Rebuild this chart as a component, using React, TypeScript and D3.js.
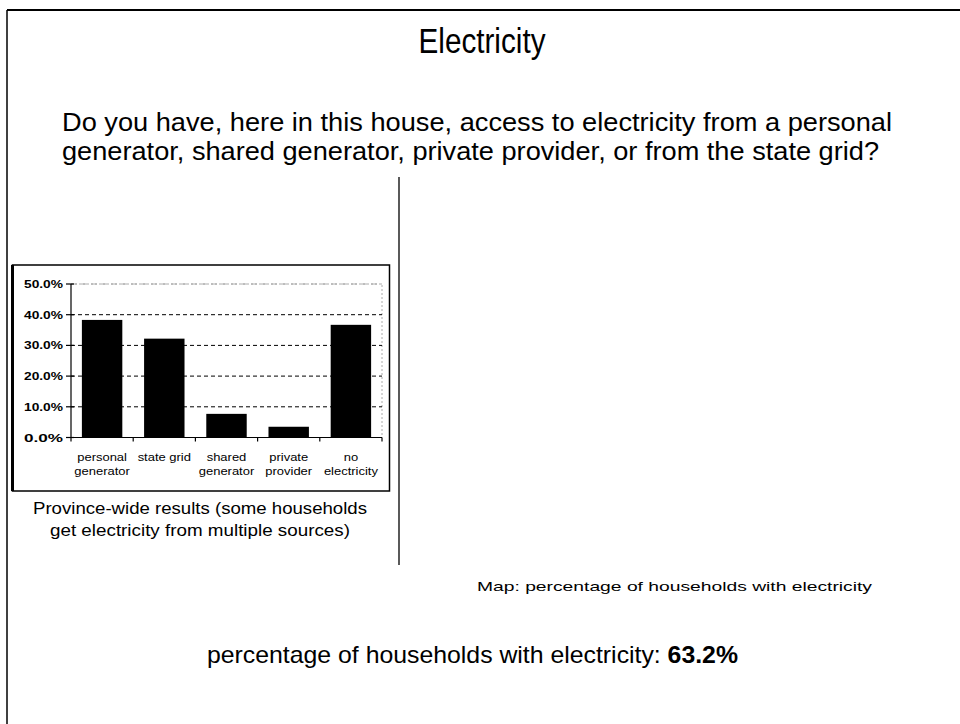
import * as d3 from "d3";

const categories = [
  ["personal", "generator"],
  ["state grid"],
  ["shared", "generator"],
  ["private", "provider"],
  ["no", "electricity"],
];
const values = [0.383, 0.322, 0.077, 0.035, 0.367];
const yTicks = [0, 0.1, 0.2, 0.3, 0.4, 0.5];

const W = 960;
const H = 724;
const FONT = "'Liberation Sans', Arial, sans-serif";

export default function App() {
  const plot = { left: 71, right: 382, top: 284, bottom: 437.5 };

  const x = d3
    .scaleBand<number>()
    .domain(d3.range(values.length))
    .range([plot.left, plot.right])
    .paddingInner(0.35)
    .paddingOuter(0.175);
  const step = x.step();

  const y = d3.scaleLinear().domain([0, 0.5]).range([plot.bottom, plot.top]);
  const fmt = d3.format(".1%");

  return (
    <svg
      width={W}
      height={H}
      style={{ position: "absolute", left: 0, top: 0, background: "#fff" }}
      fontFamily={FONT}
    >
      <rect width={W} height={H} fill="#fff" />

      {/* slide frame */}
      <line x1={7} x2={W} y1={10} y2={10} stroke="#000" strokeWidth={2} />
      <line x1={7} x2={7} y1={10} y2={H} stroke="#000" strokeWidth={1.5} />

      {/* headings */}
      <text x={482} y={53} fontSize={35} textAnchor="middle" textLength={127} lengthAdjust="spacingAndGlyphs">
        Electricity
      </text>
      <text x={62} y={131} fontSize={25} textLength={830} lengthAdjust="spacingAndGlyphs">
        Do you have, here in this house, access to electricity from a personal
      </text>
      <text x={62} y={160} fontSize={25} textLength={817} lengthAdjust="spacingAndGlyphs">
        generator, shared generator, private provider, or from the state grid?
      </text>

      {/* divider */}
      <line x1={399} x2={399} y1={177} y2={565} stroke="#000" strokeWidth={1.3} />

      {/* chart box */}
      <rect x={12.5} y={265} width={377} height={226} fill="#fff" stroke="#000" strokeWidth={1.5} />
      <line x1={12.5} x2={12.5} y1={265} y2={491} stroke="#000" strokeWidth={3} />

      {/* plot area border (light dotted) */}
      <path
        d={`M${plot.left},${plot.top}H${plot.right}V${plot.bottom}`}
        fill="none"
        stroke="#aaa"
        strokeWidth={1}
        strokeDasharray="2,2"
      />

      {/* gridlines */}
      {yTicks
        .filter((t) => t > 0)
        .map((t) => (
          <line
            key={t}
            x1={plot.left}
            x2={plot.right}
            y1={y(t)}
            y2={y(t)}
            stroke={t === 0.5 ? "#999" : "#000"}
            strokeWidth={t === 0.5 ? 0.8 : 1}
            strokeDasharray={t === 0.5 ? "6,4" : "4,3"}
          />
        ))}

      {/* bars */}
      {values.map((v, i) => (
        <rect key={i} x={x(i)} y={y(v)} width={x.bandwidth()} height={y(0) - y(v)} fill="#000" />
      ))}

      {/* y axis */}
      <line x1={plot.left} x2={plot.left} y1={plot.top} y2={plot.bottom} stroke="#000" strokeWidth={1.2} />
      {yTicks.map((t) => (
        <g key={t}>
          <line x1={plot.left - 5} x2={plot.left + 3} y1={y(t)} y2={y(t)} stroke="#000" strokeWidth={1.2} />
          <text
            x={plot.left - 47}
            y={y(t)}
            dy="0.35em"
            fontSize={11.5}
            fontWeight="bold"
            textLength={39}
            lengthAdjust="spacingAndGlyphs"
          >
            {fmt(t)}
          </text>
        </g>
      ))}

      {/* x axis */}
      <line x1={plot.left} x2={plot.right} y1={plot.bottom} y2={plot.bottom} stroke="#000" strokeWidth={1.2} />
      {d3.range(values.length + 1).map((i) => {
        const tx = plot.left + i * step;
        return <line key={i} x1={tx} x2={tx} y1={plot.bottom} y2={plot.bottom + 4} stroke="#000" strokeWidth={1.2} />;
      })}
      {categories.map((lines, i) => {
        const cx = (x(i) ?? 0) + x.bandwidth() / 2;
        return (
          <g key={i} transform={`translate(${cx},0) scale(1.18,1)`}>
            <text x={0} y={461} fontSize={11} textAnchor="middle">
              {lines.map((l, j) => (
                <tspan key={j} x={0} dy={j === 0 ? 0 : 14}>
                  {l}
                </tspan>
              ))}
            </text>
          </g>
        );
      })}

      {/* chart caption */}
      <text x={200} y={514} fontSize={16.5} textAnchor="middle" textLength={334} lengthAdjust="spacingAndGlyphs">
        Province-wide results (some households
      </text>
      <text x={200} y={536} fontSize={16.5} textAnchor="middle" textLength={300} lengthAdjust="spacingAndGlyphs">
        get electricity from multiple sources)
      </text>

      {/* map caption */}
      <text x={477} y={591} fontSize={13.5} textLength={395} lengthAdjust="spacingAndGlyphs">
        Map: percentage of households with electricity
      </text>

      {/* summary */}
      <text x={207} y={663} fontSize={24} textLength={531} lengthAdjust="spacingAndGlyphs">
        percentage of households with electricity: <tspan fontWeight="bold">63.2%</tspan>
      </text>
    </svg>
  );
}
